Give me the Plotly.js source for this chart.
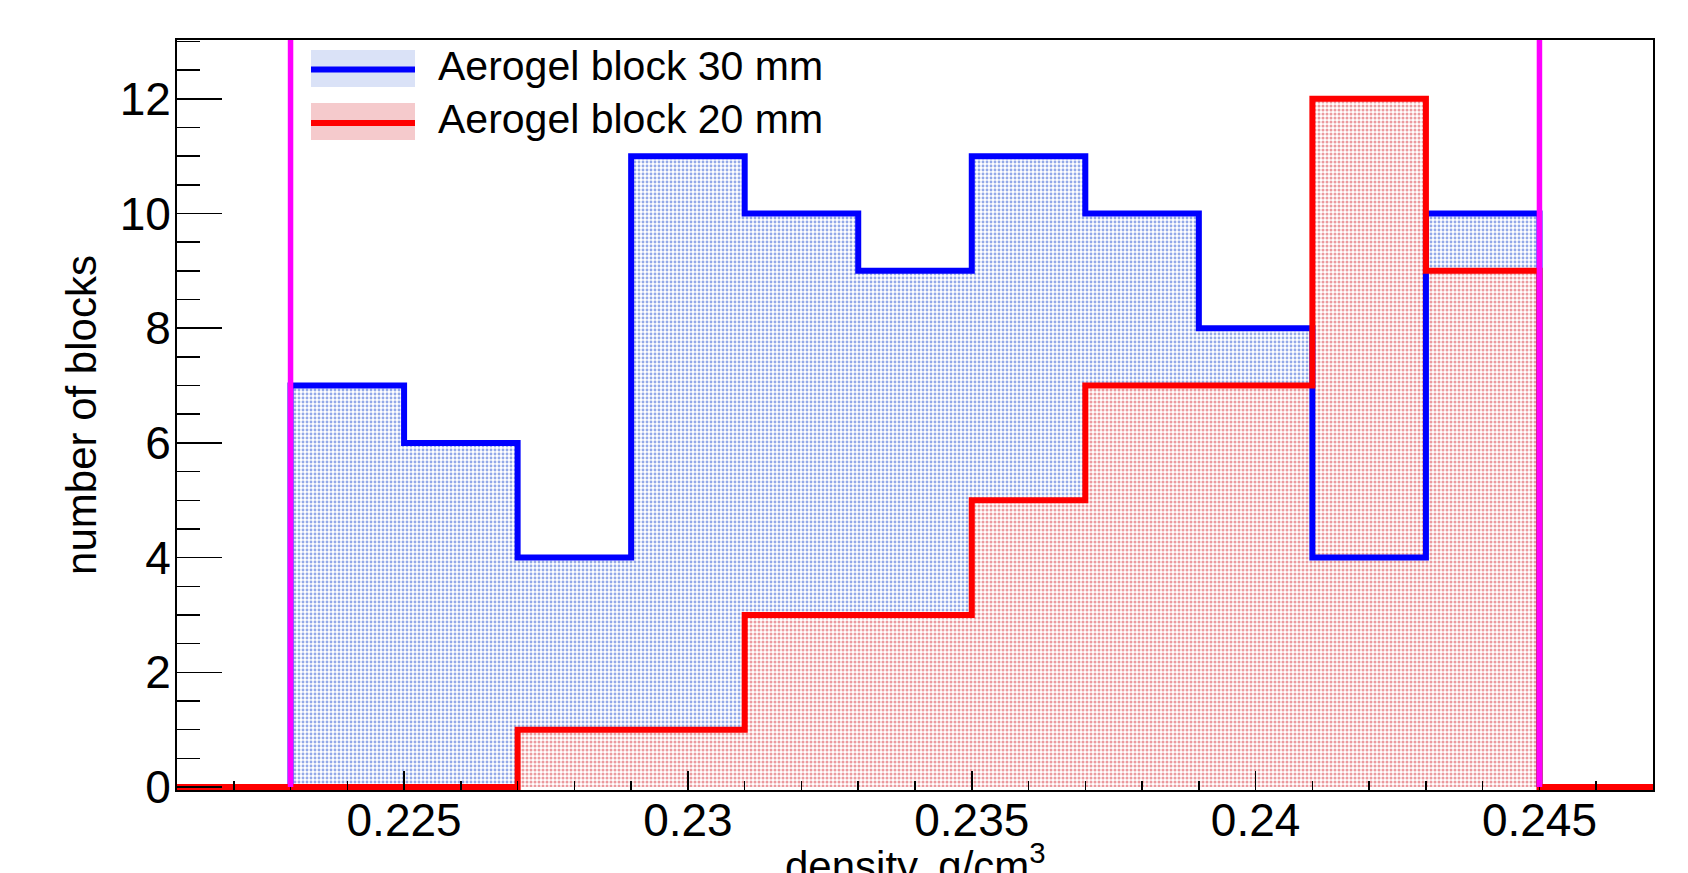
<!DOCTYPE html>
<html><head><meta charset="utf-8">
<script src="https://cdn.plot.ly/plotly-3.0.1.min.js"></script>
<style>html,body{margin:0;padding:0;background:#fff}#chart{width:1688px;height:873px}</style>
</head><body><div id="chart"></div>
<script>
// ---- data ----
const binEdges = [0.223, 0.225, 0.227, 0.229, 0.231, 0.233, 0.235, 0.237, 0.239, 0.241, 0.243, 0.245];
const blocks30mm = [7, 6, 4, 11, 10, 9, 11, 10, 8, 4, 10];
const blocks20mm = [0, 0, 1, 1, 3, 3, 5, 7, 7, 12, 9];
const seriesNames = ['Aerogel block 30 mm', 'Aerogel block 20 mm'];
const xRange = [0.221, 0.247];
const yRange = [-0.052, 13.025];
const cutLines = [0.223, 0.245];
const xTickVals = [0.225, 0.23, 0.235, 0.24, 0.245];
const xTickText = ['0.225', '0.23', '0.235', '0.24', '0.245'];
const yTickVals = [0, 2, 4, 6, 8, 10, 12];
const yTickText = ['0', '2', '4', '6', '8', '10', '12'];
const xTitle = 'density, g/cm<sup>3</sup>';
const yTitle = 'number of blocks';

// ---- helpers ----
function stepX(edges) { return [edges[0]].concat(edges); }
function stepY(counts) { return [0].concat(counts).concat([0]); }

const FONT = 'Liberation Sans, Arial, Helvetica, sans-serif';
const BLUE = '#0000ff', RED = '#ff0000', MAGENTA = '#ff00ff';
const BLUE_FILL = 'rgb(218,226,247)', RED_FILL = 'rgb(245,202,204)';

const W = 1688, H = 873;
const M = {l: 177, r: 35, t: 40, b: 83};
const PW = W - M.l - M.r, PH = H - M.t - M.b;
function px(p) { return (p - M.l) / PW; }
function py(p) { return (H - M.b - p) / PH; }

const bx = stepX(binEdges);
const redLineX = [xRange[0]].concat(bx).concat([xRange[1]]);
const redLineY = [0].concat(stepY(blocks20mm)).concat([0]);

const traces = [
  { // blue fill
    type: 'scatter', mode: 'lines', x: bx, y: stepY(blocks30mm),
    line: {shape: 'hv', width: 0, color: BLUE}, fill: 'tozeroy', fillcolor: BLUE_FILL,
    fillpattern: {shape: '.', fgcolor: '#93a9e8', bgcolor: '#ffffff', size: 4, solidity: 0.4},
    showlegend: false, hoverinfo: 'skip'
  },
  { // red fill
    type: 'scatter', mode: 'lines', x: bx, y: stepY(blocks20mm),
    line: {shape: 'hv', width: 0, color: RED}, fill: 'tozeroy', fillcolor: RED_FILL,
    fillpattern: {shape: '.', fgcolor: '#eb9a9e', bgcolor: '#ffffff', size: 4, solidity: 0.45},
    showlegend: false, hoverinfo: 'skip'
  },
  { // blue outline
    type: 'scatter', mode: 'lines', name: seriesNames[0], x: bx, y: stepY(blocks30mm),
    line: {shape: 'hv', width: 6, color: BLUE}, showlegend: false
  },
  { // red outline
    type: 'scatter', mode: 'lines', name: seriesNames[1], x: redLineX, y: redLineY,
    line: {shape: 'hv', width: 6, color: RED}, showlegend: false
  }
];

const shapes = cutLines.map(v => ({
  type: 'line', xref: 'x', yref: 'y', x0: v, x1: v, y0: 0, y1: yRange[1],
  line: {color: MAGENTA, width: 5.5}, layer: 'above'
}));

// manual ROOT-style legend
const legRows = [
  {top: 50, bot: 87, mid: 69.5, text: 66, fill: BLUE_FILL, color: BLUE, name: seriesNames[0]},
  {top: 103, bot: 140, mid: 123, text: 119.5, fill: RED_FILL, color: RED, name: seriesNames[1]}
];
const annotations = [];
legRows.forEach(r => {
  shapes.push({type: 'rect', xref: 'paper', yref: 'paper', x0: px(311), x1: px(415), y0: py(r.bot), y1: py(r.top),
    fillcolor: r.fill, line: {width: 0}, layer: 'above'});
  shapes.push({type: 'line', xref: 'paper', yref: 'paper', x0: px(311), x1: px(415), y0: py(r.mid), y1: py(r.mid),
    line: {color: r.color, width: 6}, layer: 'above'});
  annotations.push({xref: 'paper', yref: 'paper', x: px(436), y: py(r.text), xanchor: 'left', yanchor: 'middle',
    text: r.name, showarrow: false, font: {family: FONT, size: 41, color: '#000'}});
});

// x-axis title (ROOT places it partly below the canvas edge)
annotations.push({xref: 'paper', yref: 'paper', x: 0.5, y: py(834), xanchor: 'center', yanchor: 'top',
  text: xTitle, showarrow: false, font: {family: FONT, size: 42, color: '#000'}});

const layout = {
  width: W, height: H, margin: M,
  paper_bgcolor: '#fff', plot_bgcolor: '#fff',
  font: {family: FONT, color: '#000'},
  showlegend: false,
  xaxis: {
    range: xRange, tickmode: 'array', tickvals: xTickVals, ticktext: xTickText,
    ticks: 'inside', ticklen: 19, tickwidth: 1.5, tickcolor: '#000',
    minor: {tickmode: 'linear', tick0: xRange[0], dtick: 0.001, ticks: 'inside', ticklen: 9, tickwidth: 1.5, tickcolor: '#000'},
    showline: true, linecolor: '#000', linewidth: 2, mirror: true,
    showgrid: false, zeroline: false, ticklabelstandoff: -11,
    tickfont: {family: FONT, size: 46, color: '#000'}
  },
  yaxis: {
    range: yRange, tickmode: 'array', tickvals: yTickVals, ticktext: yTickText,
    ticks: 'inside', ticklen: 45, tickwidth: 1.5, tickcolor: '#000',
    minor: {tickmode: 'linear', tick0: 0, dtick: 0.5, ticks: 'inside', ticklen: 23, tickwidth: 1.5, tickcolor: '#000'},
    showline: true, linecolor: '#000', linewidth: 2, mirror: true,
    showgrid: false, zeroline: false, ticklabelstandoff: -5,
    tickfont: {family: FONT, size: 46, color: '#000'},
    title: {text: yTitle, font: {family: FONT, size: 42, color: '#000'}, standoff: 10}
  },
  shapes: shapes,
  annotations: annotations
};

Plotly.newPlot('chart', traces, layout, {staticPlot: true, displayModeBar: false});
</script>
</body></html>
